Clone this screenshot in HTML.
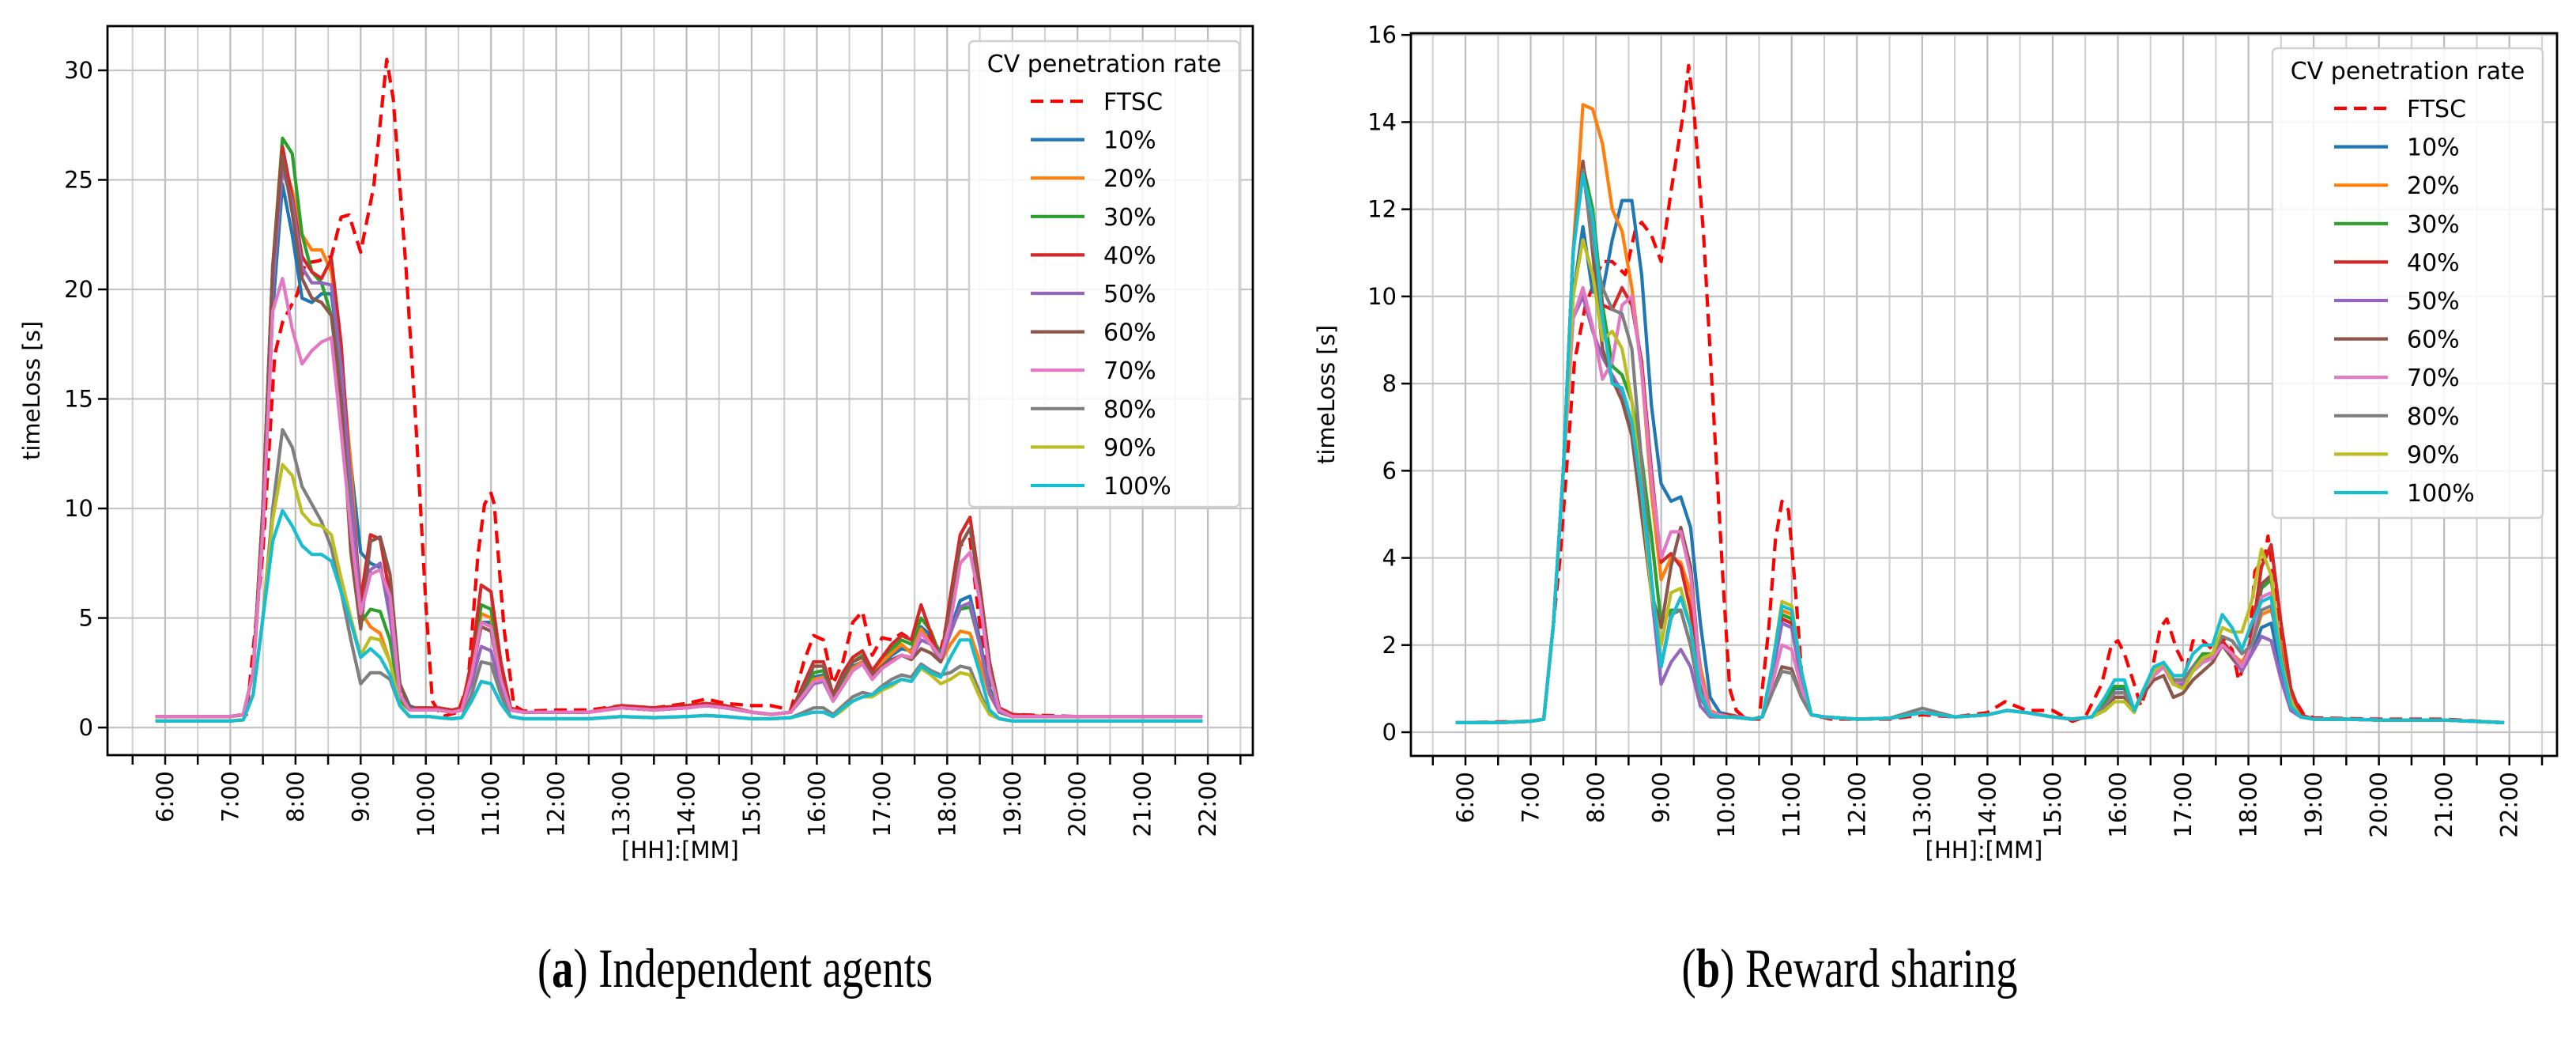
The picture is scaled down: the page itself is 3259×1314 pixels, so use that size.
<!DOCTYPE html>
<html><head><meta charset="utf-8"><style>
html,body{margin:0;padding:0;background:#fff}
svg text{font-family:"DejaVu Sans","Liberation Sans",sans-serif}
</style></head><body>
<svg id="fig" width="3259" height="1309" viewBox="0 0 3259 1309" xmlns="http://www.w3.org/2000/svg">
<rect width="3259" height="1309" fill="#fff"/>
<text x="930" y="1248" text-anchor="middle" font-size="70" style="font-family:'Liberation Serif',serif" textLength="500" lengthAdjust="spacingAndGlyphs">(<tspan font-weight="bold">a</tspan>) Independent agents</text>
<text x="2340" y="1248" text-anchor="middle" font-size="70" style="font-family:'Liberation Serif',serif" textLength="425" lengthAdjust="spacingAndGlyphs">(<tspan font-weight="bold">b</tspan>) Reward sharing</text>
</svg>
<script>
const T=[5.85,6.5,7.0,7.2,7.35,7.5,7.65,7.8,7.95,8.1,8.25,8.4,8.55,8.7,8.85,9.0,9.15,9.3,9.45,9.6,9.75,9.9,10.05,10.2,10.4,10.55,10.7,10.85,11.0,11.15,11.3,11.5,12.0,12.5,13.0,13.5,14.0,14.3,14.6,15.0,15.3,15.6,15.8,15.95,16.1,16.25,16.4,16.55,16.7,16.85,17.0,17.15,17.3,17.45,17.6,17.75,17.9,18.05,18.2,18.35,18.5,18.65,18.8,19.0,19.5,20.0,21.0,21.92];
const seriesNames=["10%","20%","30%","40%","50%","60%","70%","80%","90%","100%"];
const seriesColors=["#1f77b4","#ff7f0e","#2ca02c","#d62728","#9467bd","#8c564b","#e377c2","#7f7f7f","#bcbd22","#17becf"];
const yTicksA=[0,5,10,15,20,25,30];
const yTicksB=[0,2,4,6,8,10,12,14,16];
const hourTicks=[6,7,8,9,10,11,12,13,14,15,16,17,18,19,20,21,22];

const ftscTA=[5.85,7.0,7.25,7.5,7.68,7.8,8.03,8.15,8.35,8.55,8.7,8.82,9.0,9.2,9.4,9.5,9.7,9.85,10.0,10.1,10.25,10.5,10.65,10.8,10.9,11.0,11.05,11.2,11.35,11.5,12.0,12.5,13.0,13.5,14.0,14.3,14.6,15.0,15.3,15.6,15.8,15.95,16.1,16.25,16.4,16.55,16.7,16.85,17.0,17.15,17.3,17.45,17.6,17.75,17.9,18.05,18.2,18.35,18.5,18.65,18.8,19.0,20.0,21.0,21.92];
const ftscA=[0.5,0.5,0.6,8,17,18.5,19.8,21.2,21.3,21.5,23.3,23.4,21.7,24.7,30.5,28.7,20.8,13.7,5.6,1.2,0.5,0.7,2.1,7.9,10.2,10.7,10.2,4.5,1.0,0.75,0.8,0.8,1.0,0.9,1.1,1.3,1.1,1.0,1.0,0.8,3.0,4.2,4.0,2.0,3.0,4.8,5.3,3.3,4.1,4.0,4.3,4.0,4.5,4.0,3.5,5.5,8.3,8.6,4.7,2.2,0.9,0.6,0.5,0.5,0.5];
const A10=[0.5,0.5,0.5,0.6,2.5,9,19,24.8,22.5,19.6,19.4,19.8,19.8,16.5,12,8.0,7.5,7.3,5.5,2.0,1.0,0.8,0.8,0.8,0.7,0.8,2.5,4.8,4.8,2.5,0.8,0.7,0.7,0.7,0.9,0.8,0.9,1.0,0.9,0.7,0.6,0.7,1.6,2.3,2.4,1.3,2.0,2.8,3.0,2.3,2.9,3.3,3.6,3.5,4.6,4.2,3.4,4.5,5.8,6.0,4.0,1.8,0.7,0.5,0.5,0.5,0.5,0.5];
const A20=[0.5,0.5,0.5,0.6,2.5,10,20,26,24.5,22.5,21.8,21.8,20.8,17,12,5.3,4.6,4.3,3.0,1.2,0.8,0.8,0.8,0.8,0.7,0.8,2.5,5.2,5.0,2.4,0.8,0.7,0.7,0.7,0.9,0.8,0.9,1.0,0.9,0.7,0.6,0.7,1.5,2.2,2.3,1.2,2.0,2.7,3.0,2.5,3.0,3.4,3.8,3.4,4.5,3.8,3.0,3.8,4.4,4.3,3.0,1.5,0.7,0.5,0.5,0.5,0.5,0.5];
const A30=[0.5,0.5,0.5,0.6,2.5,10,21,26.9,26.2,22.5,20.8,20.3,18.8,15.5,10,4.8,5.4,5.3,4.0,1.3,0.8,0.8,0.8,0.8,0.7,0.8,2.6,5.6,5.4,2.6,0.8,0.7,0.7,0.7,0.9,0.8,0.9,1.0,0.9,0.7,0.6,0.7,1.7,2.5,2.6,1.3,2.2,3.0,3.3,2.6,3.2,3.6,4.0,3.8,5.0,4.4,3.2,4.4,5.4,5.5,3.8,1.7,0.7,0.5,0.5,0.5,0.5,0.5];
const A40=[0.5,0.5,0.5,0.6,2.5,10,21,26.5,24.2,21.5,20.8,20.5,21.4,17.5,11,5.8,8.8,8.6,6.0,2.0,0.9,0.9,0.9,0.9,0.8,0.9,3.0,6.5,6.2,3.0,0.9,0.7,0.7,0.7,1.0,0.9,1.0,1.1,1.0,0.7,0.6,0.7,2.0,3.0,3.0,1.5,2.5,3.2,3.5,2.6,3.2,3.8,4.2,4.0,5.6,4.3,3.0,6.0,8.8,9.6,6.5,3.0,0.9,0.6,0.5,0.5,0.5,0.5];
const A50=[0.5,0.5,0.5,0.6,2.5,9,20,25.5,24,21,20.3,20.3,20.2,16.5,11,5.2,7.2,7.5,5.0,1.5,0.8,0.8,0.8,0.8,0.7,0.8,2.0,3.7,3.5,1.8,0.8,0.7,0.7,0.7,0.9,0.8,0.9,1.0,0.9,0.7,0.6,0.7,1.4,2.0,2.1,1.2,1.9,2.6,2.9,2.2,2.7,3.0,3.3,3.2,4.0,3.8,3.0,4.3,5.5,5.7,3.8,1.6,0.7,0.5,0.5,0.5,0.5,0.5];
const A60=[0.5,0.5,0.5,0.6,2.5,10,21,26.1,23.5,20.5,19.6,19.4,18.8,15,8,4.5,8.5,8.7,7.0,2.0,0.9,0.8,0.8,0.8,0.7,0.8,2.4,4.6,4.4,2.2,0.8,0.7,0.7,0.7,0.9,0.8,0.9,1.0,0.9,0.7,0.6,0.7,1.8,2.8,2.8,1.4,2.3,3.0,3.2,2.4,2.8,3.1,3.3,3.1,3.6,3.4,3.0,5.5,8.3,9.1,6.3,2.8,0.8,0.5,0.5,0.5,0.5,0.5];
const A70=[0.5,0.5,0.5,0.6,2.5,9,19,20.5,18.2,16.6,17.2,17.6,17.8,13.5,9,5.2,7.0,7.2,6.0,1.5,0.8,0.8,0.8,0.8,0.7,0.8,2.4,4.8,4.6,2.2,0.8,0.7,0.7,0.7,0.9,0.8,0.9,1.0,0.9,0.7,0.6,0.7,1.5,2.1,2.2,1.2,1.9,2.6,2.9,2.2,2.7,3.0,3.3,3.2,4.3,3.8,3.2,4.8,7.5,8.0,5.8,2.5,0.8,0.5,0.5,0.5,0.5,0.5];
const A80=[0.3,0.3,0.3,0.35,1.5,5,10,13.6,12.8,11,10.2,9.4,8.2,6.2,4,2.0,2.5,2.5,2.2,1.0,0.5,0.5,0.5,0.45,0.4,0.45,1.5,3.0,2.9,1.5,0.5,0.4,0.4,0.4,0.5,0.45,0.5,0.55,0.5,0.4,0.4,0.45,0.7,0.9,0.9,0.6,1.0,1.4,1.6,1.5,1.9,2.2,2.4,2.3,2.9,2.6,2.4,2.5,2.8,2.7,1.6,0.6,0.4,0.3,0.3,0.3,0.3,0.3];
const A90=[0.3,0.3,0.3,0.35,1.5,5,9.5,12.0,11.5,9.8,9.3,9.2,8.8,6.8,5,3.3,4.1,4.0,3.0,1.0,0.5,0.5,0.5,0.45,0.4,0.45,1.2,2.1,2.0,1.1,0.5,0.4,0.4,0.4,0.5,0.45,0.5,0.55,0.5,0.4,0.4,0.45,0.6,0.7,0.7,0.5,0.8,1.2,1.4,1.4,1.7,1.9,2.2,2.1,2.7,2.4,2.0,2.2,2.5,2.4,1.4,0.6,0.4,0.3,0.3,0.3,0.3,0.3];
const A100=[0.3,0.3,0.3,0.35,1.5,5,8.5,9.9,9.2,8.3,7.9,7.9,7.6,6.2,4.8,3.2,3.6,3.2,2.4,1.0,0.5,0.5,0.5,0.45,0.4,0.45,1.2,2.1,2.0,1.1,0.5,0.4,0.4,0.4,0.5,0.45,0.5,0.55,0.5,0.4,0.4,0.45,0.6,0.7,0.7,0.5,0.9,1.2,1.4,1.5,1.8,2.0,2.2,2.1,2.8,2.5,2.3,3.2,4.0,4.0,2.5,0.8,0.4,0.3,0.3,0.3,0.3,0.3];

const ftscTB=[5.85,7.0,7.2,7.45,7.67,7.84,8.1,8.25,8.45,8.6,8.7,8.85,9.0,9.15,9.35,9.42,9.5,9.65,9.8,9.95,10.05,10.15,10.3,10.5,10.65,10.75,10.85,10.95,11.05,11.15,11.3,11.6,12.0,12.5,13.0,13.5,14.0,14.27,14.6,15.0,15.3,15.5,15.75,15.9,16.0,16.1,16.25,16.35,16.5,16.65,16.75,16.9,17.05,17.15,17.3,17.45,17.6,17.75,17.85,18.0,18.1,18.25,18.3,18.4,18.5,18.65,18.85,19.0,20.0,21.0,21.92];
const ftscB=[0.22,0.25,0.3,4,8.5,9.8,10.8,10.8,10.5,11.5,11.7,11.4,10.8,12.4,14.3,15.3,14.3,11.4,7.4,3.4,1.0,0.5,0.3,0.3,2.4,4.4,5.3,5.1,3.4,1.4,0.4,0.3,0.3,0.3,0.4,0.35,0.45,0.7,0.5,0.5,0.25,0.35,1.1,2.0,2.1,1.8,1.1,0.6,1.25,2.4,2.6,1.9,1.45,2.1,2.1,1.9,2.15,1.9,1.2,1.8,3.7,4.0,4.5,3.4,2.1,0.9,0.4,0.33,0.3,0.3,0.22];
const B10=[0.22,0.22,0.25,0.3,2.5,6,10,11.6,10.1,10.1,11.3,12.2,12.2,10.5,7.5,5.7,5.3,5.4,4.7,2.5,0.8,0.45,0.4,0.35,0.3,0.35,1.3,2.6,2.5,1.3,0.4,0.35,0.3,0.32,0.45,0.35,0.4,0.5,0.45,0.35,0.3,0.35,0.7,1.0,1.0,0.5,0.9,1.3,1.5,1.2,1.0,1.4,1.6,1.7,2.0,1.8,1.6,1.8,2.4,2.5,1.4,0.6,0.35,0.3,0.3,0.28,0.28,0.22];
const B20=[0.22,0.22,0.25,0.3,2.5,6,11,14.4,14.3,13.5,12.0,11.5,10.2,8.3,5.5,3.5,4.0,3.9,3.2,1.5,0.5,0.4,0.35,0.35,0.3,0.35,1.4,2.8,2.7,1.3,0.4,0.35,0.3,0.32,0.45,0.35,0.4,0.5,0.45,0.35,0.3,0.35,0.6,0.9,0.9,0.5,1.0,1.4,1.6,1.2,1.2,1.5,1.7,1.8,2.0,1.8,1.6,2.0,2.7,2.8,2.0,0.9,0.4,0.3,0.3,0.28,0.28,0.22];
const B30=[0.22,0.22,0.25,0.3,2.5,6,11,13.0,12.0,9.8,8.4,8.2,7.6,6.3,4.5,2.5,2.8,2.8,2.0,0.8,0.4,0.35,0.35,0.33,0.3,0.35,1.4,2.7,2.6,1.3,0.4,0.35,0.3,0.32,0.45,0.35,0.4,0.5,0.45,0.35,0.3,0.35,0.7,1.05,1.05,0.5,1.0,1.4,1.6,1.2,1.2,1.5,1.8,1.8,2.1,1.8,1.5,2.0,3.3,3.5,1.8,0.7,0.35,0.3,0.3,0.28,0.28,0.22];
const B40=[0.22,0.22,0.25,0.3,2.5,6,11,13.1,11.3,9.8,9.7,10.2,9.8,8.5,6,3.9,4.1,3.8,2.8,1.0,0.45,0.4,0.4,0.35,0.3,0.35,1.3,2.6,2.5,1.2,0.4,0.35,0.3,0.32,0.45,0.35,0.4,0.5,0.45,0.35,0.3,0.35,0.6,0.9,0.9,0.5,0.9,1.3,1.5,1.1,1.1,1.4,1.7,1.8,2.1,1.8,1.4,2.2,3.8,4.3,2.5,1.0,0.4,0.3,0.3,0.28,0.28,0.22];
const B50=[0.22,0.22,0.25,0.3,2.5,6,9.5,10.0,9.2,8.6,8.2,7.8,6.8,5.0,3.2,1.1,1.6,1.9,1.5,0.6,0.35,0.35,0.35,0.33,0.3,0.35,1.3,2.5,2.4,1.2,0.4,0.35,0.3,0.32,0.45,0.35,0.4,0.5,0.45,0.35,0.3,0.35,0.5,0.8,0.8,0.5,0.9,1.3,1.5,1.1,1.1,1.4,1.7,1.7,2.0,1.7,1.4,1.8,2.2,2.1,1.2,0.5,0.35,0.3,0.3,0.28,0.28,0.22];
const B60=[0.22,0.22,0.25,0.3,2.5,6,11,13.1,11.0,8.8,8.1,7.6,6.8,5.0,3.2,2.4,3.8,4.7,3.8,1.3,0.45,0.4,0.35,0.35,0.3,0.35,0.9,1.5,1.45,0.8,0.4,0.35,0.3,0.32,0.45,0.35,0.4,0.5,0.45,0.35,0.3,0.35,0.5,0.8,0.8,0.5,0.9,1.2,1.3,0.8,0.9,1.2,1.4,1.6,2.0,1.7,1.5,2.0,3.4,3.6,1.8,0.7,0.35,0.3,0.3,0.28,0.28,0.22];
const B70=[0.22,0.22,0.25,0.3,2.5,6,9.5,10.2,9.3,8.1,8.5,9.8,10.0,8.3,5.8,4.0,4.6,4.6,3.6,1.3,0.45,0.4,0.35,0.35,0.3,0.35,1.1,2.0,1.9,1.0,0.4,0.35,0.3,0.32,0.45,0.35,0.4,0.5,0.45,0.35,0.3,0.35,0.6,0.9,0.9,0.5,1.0,1.3,1.5,1.1,1.2,1.4,1.6,1.7,2.0,1.8,1.5,2.0,3.1,3.2,1.6,0.6,0.35,0.3,0.3,0.28,0.28,0.22];
const B80=[0.22,0.22,0.25,0.3,2.5,6,11,12.9,11.2,10.2,9.7,9.6,8.8,6.2,3.5,1.5,2.7,2.8,2.0,0.8,0.4,0.35,0.35,0.33,0.3,0.35,0.9,1.4,1.35,0.8,0.4,0.35,0.3,0.32,0.55,0.35,0.4,0.5,0.45,0.35,0.3,0.35,0.6,0.9,0.9,0.5,1.0,1.4,1.6,1.2,1.2,1.5,1.7,1.8,2.2,2.1,1.8,2.0,2.8,2.9,1.6,0.6,0.35,0.3,0.3,0.28,0.28,0.22];
const B90=[0.22,0.22,0.25,0.3,2.5,6,10,11.3,10.5,9.0,9.2,8.8,7.6,5.5,3.2,2.0,3.2,3.3,2.4,0.9,0.4,0.35,0.35,0.33,0.3,0.35,1.5,3.0,2.9,1.4,0.4,0.35,0.3,0.32,0.45,0.35,0.4,0.5,0.45,0.35,0.3,0.35,0.5,0.7,0.7,0.45,1.0,1.4,1.6,1.1,1.0,1.4,1.7,1.8,2.4,2.3,2.3,3.0,4.2,3.6,1.7,0.7,0.35,0.3,0.3,0.28,0.28,0.22];
const B100=[0.22,0.22,0.25,0.3,2.5,6,11,12.8,11.8,9.5,8.0,7.9,7.1,5.5,3.5,1.5,2.6,3.1,2.4,0.9,0.4,0.35,0.35,0.33,0.3,0.35,1.5,2.9,2.8,1.4,0.4,0.35,0.3,0.32,0.45,0.35,0.4,0.5,0.45,0.35,0.3,0.35,0.8,1.2,1.2,0.5,1.0,1.5,1.6,1.3,1.3,1.8,2.0,2.0,2.7,2.4,1.9,2.5,3.0,3.1,1.6,0.6,0.35,0.3,0.3,0.28,0.28,0.22];

const NS="http://www.w3.org/2000/svg";
const svg=document.getElementById('fig');
function mk(tag,attrs,parent){const e=document.createElementNS(NS,tag);for(const k in attrs)e.setAttribute(k,attrs[k]);(parent||svg).appendChild(e);return e;}
function hh(h){return h+":00";}

function panel(cfg){
  const g=mk('g',{});
  
  
  const xs=t=>cfg.x0+(t-cfg.t0)/(cfg.t1-cfg.t0)*(cfg.x1-cfg.x0);
  const ys=v=>cfg.yb+(v-cfg.v0)/(cfg.v1-cfg.v0)*(cfg.yt-cfg.yb);
  const grid=mk('g',{stroke:'#c4c4c4','stroke-width':2.2},g);
  
  
  for(let h=5.5;h<=22.5;h+=0.5){const x=xs(h);if(x<=cfg.x0||x>=cfg.x1)continue;
    mk('line',{x1:x,x2:x,y1:cfg.yt,y2:cfg.yb,stroke:Number.isInteger(h)?'#bcbcbc':'#d2d2d2'},grid);
    mk('line',{x1:x,x2:x,y1:cfg.yb,y2:cfg.yb+12,stroke:'#000','stroke-width':2.5},g);}
  cfg.yTicks.forEach(v=>{const y=ys(v);
    mk('line',{x1:cfg.x0,x2:cfg.x1,y1:y,y2:y},grid);
    mk('line',{x1:cfg.x0-12,x2:cfg.x0,y1:y,y2:y,stroke:'#000','stroke-width':2.5},g);
    const t=mk('text',{x:cfg.x0-18,y:y+10,'text-anchor':'end','font-size':29},g);
    
    
    t.textContent=v;});
  hourTicks.forEach(h=>{const x=xs(h);
    const t=mk('text',{x:0,y:0,'text-anchor':'end','font-size':29,transform:`translate(${x+10},${cfg.yb+20}) rotate(-90)`},g);
    
    
    t.textContent=hh(h);});
  const clip=mk('clipPath',{id:cfg.name+'-clip'},g);
  mk('rect',{x:cfg.x0,y:cfg.yt,width:cfg.x1-cfg.x0,height:cfg.yb-cfg.yt},clip);
  const lines=mk('g',{'clip-path':`url(#${cfg.name}-clip)`,fill:'none','stroke-linejoin':'round'},g);
  function poly(ts,vs,color,dash,nm){
    const n=Math.min(ts.length,vs.length);let d='';
    for(let i=0;i<n;i++)d+=(i?'L':'M')+xs(ts[i]).toFixed(1)+','+ys(vs[i]).toFixed(1);
    const p=mk('path',{d:d,stroke:color,'stroke-width':4.2},lines);
    if(dash)p.setAttribute('stroke-dasharray',dash);
    
    
  }
  poly(cfg.ftscT,cfg.ftsc,'#ff0000','16,9','line-ftsc');
  cfg.series.forEach((s,i)=>poly(T,s,seriesColors[i],null,'line-'+seriesNames[i].replace('%','pct')));
  mk('rect',{x:cfg.x0,y:cfg.yt,width:cfg.x1-cfg.x0,height:cfg.yb-cfg.yt,fill:'none',stroke:'#000','stroke-width':2.8},g);
  const xl=mk('text',{x:(cfg.x0+cfg.x1)/2,y:1085,'text-anchor':'middle','font-size':29},g);
  
  
  xl.textContent='[HH]:[MM]';
  const yl=mk('text',{x:0,y:0,'text-anchor':'middle','font-size':29,transform:`translate(${cfg.ylx},${(cfg.yt+cfg.yb)/2}) rotate(-90)`},g);
  
  
  yl.textContent='timeLoss [s]';
  // legend
  const L=cfg.leg;
  const lg=mk('g',{},g);
  
  
  mk('rect',{x:L.x,y:L.y,width:342,height:L.h,rx:6,fill:'#fff','fill-opacity':0.85,stroke:'#d0d0d0','stroke-width':2.5},lg);
  const tt=mk('text',{x:L.x+171,y:L.y+39,'text-anchor':'middle','font-size':30},lg);
  
  
  tt.textContent='CV penetration rate';
  const names=['FTSC'].concat(seriesNames),cols=['#ff0000'].concat(seriesColors);
  names.forEach((n,i)=>{const cy=L.y+76+i*48.6;
    const ln=mk('line',{x1:L.x+78,x2:L.x+146,y1:cy,y2:cy,stroke:cols[i],'stroke-width':4.2},lg);
    if(i===0)ln.setAttribute('stroke-dasharray','16,9');
    const tx=mk('text',{x:L.x+170,y:cy+11,'font-size':30},lg);
    
    
    tx.textContent=n;});
}
panel({name:'panel-a',x0:136,x1:1585,yt:33,yb:955,t0:5.115,t1:22.69,v0:-1.26,v1:32.02,yTicks:yTicksA,ylx:50,
  ftscT:ftscTA,ftsc:ftscA,series:[A10,A20,A30,A40,A50,A60,A70,A80,A90,A100],leg:{x:1226,y:52,h:589}});
panel({name:'panel-b',x0:1785,x1:3235,yt:42,yb:956,t0:5.164,t1:22.73,v0:-0.544,v1:16.04,yTicks:yTicksB,ylx:1688,
  ftscT:ftscTB,ftsc:ftscB,series:[B10,B20,B30,B40,B50,B60,B70,B80,B90,B100],leg:{x:2875,y:61,h:594}});
</script>
</body></html>
